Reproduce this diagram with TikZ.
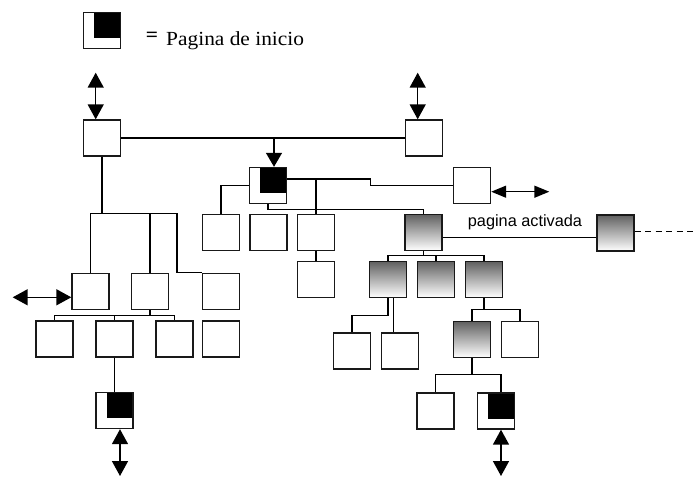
\documentclass[tikz,border=0pt]{standalone}
\usepackage{fontspec}
\newfontfamily\labelfont{Liberation Sans}
\newfontfamily\legendfont{Liberation Serif}[FakeStretch=1.07]
\usetikzlibrary{arrows.meta}

\begin{document}
\begin{tikzpicture}[x=1pt,y=-1pt,
  box/.style={draw=black!90, line width=1.4pt, rectangle,
    minimum width=37pt, minimum height=36pt, inner sep=0pt},
  plainbox/.style={box, fill=white},
  startbox/.style={box, fill=white, path picture={
    \fill[black] (path picture bounding box.north east) rectangle
      ([shift={(10.5pt,10.5pt)}]path picture bounding box.south west);}},
  activebox/.style={box, top color=black!62, bottom color=white},
  link/.style={line width=1.15pt},
  twoway/.style={line width=1.5pt,
    {Triangle[width=16pt,length=15pt]}-{Triangle[width=16pt,length=15pt]}},
  twowaysmall/.style={line width=1.4pt,
    {Triangle[width=12pt,length=15pt]}-{Triangle[width=12pt,length=15pt]}},
  downtip/.style={line width=1.4pt, -{Triangle[width=16pt,length=14pt]}},
  dashline/.style={line width=1.4pt, dash pattern=on 6pt off 4.5pt},
]
\useasboundingbox (0,0) rectangle (694,477);

% legend
\node[startbox] (legend) at (102,30.5) {};
\node[anchor=base, font=\legendfont\fontsize{20}{20}\selectfont\bfseries, inner sep=0pt]
  (eq) at (152,41) {=};
\node[anchor=base west, inner sep=0pt, font=\legendfont\fontsize{20}{24}\selectfont]
  (legtext) at (166,45) {Pagina de inicio};

% boxes
\node[plainbox] (A)  at (102,138) {};
\node[plainbox] (B)  at (424,138) {};
\node[startbox] (C)  at (268,185.5) {};
\node[plainbox] (D)  at (472,185.5) {};
\node[plainbox] (E1) at (221,232.5) {};
\node[plainbox] (E2) at (268.5,232.5) {};
\node[plainbox] (E3) at (316,232.5) {};
\node[plainbox] (E4) at (316,279.5) {};
\node[activebox] (G)  at (423.5,232.5) {};
\node[activebox] (H)  at (615.5,233) {};
\node[activebox] (G1) at (388,279.5) {};
\node[activebox] (G2) at (436,279.5) {};
\node[activebox] (G3) at (484,279.5) {};
\node[plainbox] (K1) at (352,351) {};
\node[plainbox] (K2) at (400,351) {};
\node[activebox] (L1) at (472,339.5) {};
\node[plainbox] (L2) at (520,339.5) {};
\node[plainbox] (M1) at (435.5,411) {};
\node[startbox] (M2) at (496,411) {};
\node[plainbox] (N1) at (90.5,291.5) {};
\node[plainbox] (N2) at (150,291.5) {};
\node[plainbox] (N3) at (221,291.5) {};
\node[plainbox] (P1) at (54.5,339) {};
\node[plainbox] (P2) at (114.5,339) {};
\node[plainbox] (P3) at (174.5,339) {};
\node[plainbox] (P4) at (221,339) {};
\node[startbox] (Q)  at (114.5,410.5) {};

% free ends of the arrows
\coordinate (aTop) at (95.7,72.7);
\coordinate (bTop) at (417.7,72.7);
\coordinate (dEnd) at (549.3,191.7);
\coordinate (nEnd) at (12.7,297.3);
\coordinate (qEnd) at (120,476);
\coordinate (mEnd) at (501,476);
\coordinate (hEnd) at (694,231.7);

% top level
\draw[link] (A.east) -- (B.west);
\coordinate (cIn) at ([xshift=6pt]C.north);
\draw[downtip] (cIn |- A.east) -- (cIn);
\draw[twoway] (aTop) -- (aTop |- A.north);
\draw[twoway] (bTop) -- (bTop |- B.north);

% start page and its children
\draw[link] (C.west) -| (E1.north);
\coordinate (cR) at ([yshift=6.5pt]C.east);
\draw[link] (cR) -- ++(83,0) |- (D.west);
\draw[link] (E3.north |- cR) -- (E3.north);
\draw[link] (C.south) -- ++(0,5) -| (G.north);
\draw[link] (E3.south) -- (E4.north);
\draw[twowaysmall] (dEnd) -- (dEnd -| D.east);

% activated page
\coordinate (gR) at ([yshift=-4.8pt]G.east);
\draw[link] (gR) -- (gR -| H.west);
\node[anchor=base, inner sep=0pt, font=\labelfont\fontsize{16.3}{18}\selectfont]
  (actlabel) at (525,226.7) {pagina activada};
\draw[dashline] (H.east |- hEnd) -- (hEnd);

\coordinate (gJ) at ([yshift=-4.5pt]G.south);
\draw[link] (G.south) -- (gJ) -| (G1.north);
\draw[link] (gJ) -| (G2.north);
\draw[link] (gJ) -| (G3.north);

\coordinate (g1J) at ([yshift=-17pt]G1.south);
\draw[link] (G1.south) -- (g1J) -| (K1.north);
\coordinate (g1R) at ([xshift=5.5pt]G1.south);
\draw[link] (g1R) -- (g1R |- K2.north);

\coordinate (g3J) at ([yshift=-11pt]G3.south);
\draw[link] (G3.south) -- (g3J) -| (L1.north);
\draw[link] (g3J) -| (L2.north);

\coordinate (l1J) at ([yshift=-16pt]L1.south);
\draw[link] (L1.south) -- (l1J) -| (M1.north);
\coordinate (m2In) at ([xshift=5pt]M2.north);
\draw[link] (l1J) -| (m2In);
\draw[twoway] (mEnd) -- (mEnd |- M2.south);

% left branch
\coordinate (aJ) at (A.south |- E1.north);
\draw[link] (A.south) -- (aJ) -| (N1.north);
\draw[link] (aJ) -| (N2.north);
\draw[link] (aJ) -- ++(75,0) |- (N3.north west);
\draw[twoway] (nEnd) -- (nEnd -| N1.west);

\coordinate (n2J) at ([yshift=-5pt]N2.south);
\draw[link] (N2.south) -- (n2J) -| (P1.north);
\draw[link] (n2J) -| (P2.north);
\draw[link] (n2J) -| (P3.north);
\draw[link] (P2.south) -- (Q.north);
\draw[twoway] (qEnd) -- (qEnd |- Q.south);
\end{tikzpicture}
\end{document}
